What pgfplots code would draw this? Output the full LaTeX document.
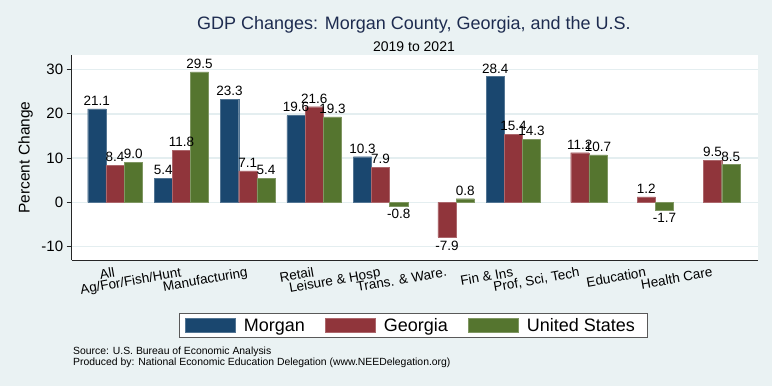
\documentclass[border=0pt]{standalone}
\usepackage{pgfplots}
\pgfplotsset{compat=1.18}
\usepackage{fontspec}
\setmainfont{Liberation Sans}
\definecolor{bg}{HTML}{EAF2F3}
\definecolor{gridc}{HTML}{E4EEF0}
\definecolor{snavy}{HTML}{1A476F}
\definecolor{smaroon}{HTML}{90353B}
\definecolor{sgreen}{HTML}{55752F}
\definecolor{titlec}{HTML}{1E2C50}
\pgfplotsset{
  mylegend/.style={legend image code/.code={\draw[##1,line width=0.5pt] (0pt,-7pt) rectangle (50.5pt,7pt);}}
}
\begin{document}
\begin{tikzpicture}[x=1pt,y=1pt]
\fill[bg] (0,0) rectangle (772,386);
\begin{axis}[
  at={(71.7pt,126pt)}, anchor=south west,
  scale only axis, width=686.6pt, height=205pt,
  xmin=-0.652, xmax=9.688, ymin=-13.05, ymax=33.3,
  axis background/.style={fill=white},
  axis x line*=bottom, axis y line*=left,
  axis line style={draw=black!85, line width=0.9pt, -},
  ytick={-10,0,10,20,30},
  ymajorgrids, grid style={gridc, line width=1.5pt},
  tick align=outside, major tick length=5pt,
  y tick style={black!85, line width=0.9pt},
  xtick={0,...,9},
  xticklabels={All,Ag/For/Fish/Hunt,Manufacturing,Retail,Leisure \& Hosp,Trans. \& Ware.,Fin \& Ins,{Prof, Sci, Tech},Education,Health Care},
  x tick style={draw=none},
  xticklabel style={rotate=10, anchor=north east, font=\fontsize{13.5}{15}\selectfont, inner sep=1.5pt},
  yticklabel style={font=\fontsize{15}{17}\selectfont},
  /pgf/number format/assume math mode=true,
  ylabel={Percent Change},
  ylabel style={at={(axis description cs:-0.067,0.5)}, anchor=center, font=\fontsize{15.5}{17}\selectfont},
  ybar, bar width=0.274,
  nodes near coords={\pgfmathprintnumber[fixed,fixed zerofill,precision=1,assume math mode=true]{\pgfplotspointmeta}},
  nodes near coords style={font=\fontsize{13.5}{15}\selectfont, text=black},
  legend columns=3,
  legend style={at={(axis description cs:0.4984,-0.3205)}, anchor=center,
    draw=black!65, line width=1pt, fill=white,
    font=\fontsize{18}{20}\selectfont,
    inner xsep=5pt, inner ysep=3pt,
    nodes={inner xsep=8pt, inner ysep=2pt},
    /tikz/every even column/.append style={column sep=12pt}},
  legend cell align=left,
]
\addplot[fill=snavy, draw=snavy!75!white, bar shift=-0.274, mylegend] coordinates {(0,21.1)(1,5.4)(2,23.3)(3,19.6)(4,10.3)(6,28.4)};
\addplot[fill=smaroon, draw=smaroon!75!white, bar shift=0, mylegend] coordinates {(0,8.4)(1,11.8)(2,7.1)(3,21.6)(4,7.9)(5,-7.9)(6,15.4)(7,11.2)(8,1.2)(9,9.5)};
\addplot[fill=sgreen, draw=sgreen!75!white, bar shift=0.274, mylegend] coordinates {(0,9.0)(1,29.5)(2,5.4)(3,19.3)(4,-0.8)(5,0.8)(6,14.3)(7,10.7)(8,-1.7)(9,8.5)};
\legend{Morgan,Georgia,United States}
\end{axis}
\node[text=titlec, font=\fontsize{18}{20}\selectfont] at (414,361) {GDP Changes: Morgan County, Georgia, and the U.S.};
\node[font=\fontsize{14}{16}\selectfont] at (414,339.3) {2019 to 2021};
\node[anchor=west, inner sep=0pt, font=\fontsize{10.4}{12}\selectfont] at (73,34.3) {Source: U.S. Bureau of Economic Analysis};
\node[anchor=west, inner sep=0pt, font=\fontsize{10.4}{12}\selectfont] at (73,22.7) {Produced by: National Economic Education Delegation (www.NEEDelegation.org)};
\end{tikzpicture}
\end{document}
